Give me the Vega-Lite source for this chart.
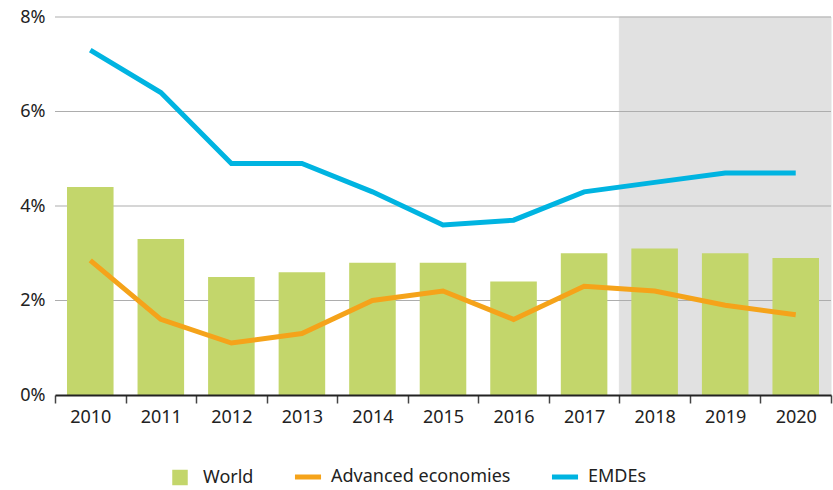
{
  "$schema": "https://vega.github.io/schema/vega-lite/v6.json",
  "width": 776,
  "height": 378,
  "autosize": {"type": "none"},
  "padding": {"left": 55, "top": 17, "right": 2, "bottom": 95},
  "config": {
    "view": {"stroke": null},
    "font": "Noto Sans",
    "axis": {"labelFont": "Noto Sans", "labelColor": "#222222", "labelFontSize": 18}
  },
  "datasets": {
    "main": [
      {"year": "2010", "series": "World", "value": 4.4},
      {"year": "2011", "series": "World", "value": 3.3},
      {"year": "2012", "series": "World", "value": 2.5},
      {"year": "2013", "series": "World", "value": 2.6},
      {"year": "2014", "series": "World", "value": 2.8},
      {"year": "2015", "series": "World", "value": 2.8},
      {"year": "2016", "series": "World", "value": 2.4},
      {"year": "2017", "series": "World", "value": 3.0},
      {"year": "2018", "series": "World", "value": 3.1},
      {"year": "2019", "series": "World", "value": 3.0},
      {"year": "2020", "series": "World", "value": 2.9},
      {"year": "2010", "series": "Advanced economies", "value": 2.85},
      {"year": "2011", "series": "Advanced economies", "value": 1.6},
      {"year": "2012", "series": "Advanced economies", "value": 1.1},
      {"year": "2013", "series": "Advanced economies", "value": 1.3},
      {"year": "2014", "series": "Advanced economies", "value": 2.0},
      {"year": "2015", "series": "Advanced economies", "value": 2.2},
      {"year": "2016", "series": "Advanced economies", "value": 1.6},
      {"year": "2017", "series": "Advanced economies", "value": 2.3},
      {"year": "2018", "series": "Advanced economies", "value": 2.2},
      {"year": "2019", "series": "Advanced economies", "value": 1.9},
      {"year": "2020", "series": "Advanced economies", "value": 1.7},
      {"year": "2010", "series": "EMDEs", "value": 7.3},
      {"year": "2011", "series": "EMDEs", "value": 6.4},
      {"year": "2012", "series": "EMDEs", "value": 4.9},
      {"year": "2013", "series": "EMDEs", "value": 4.9},
      {"year": "2014", "series": "EMDEs", "value": 4.3},
      {"year": "2015", "series": "EMDEs", "value": 3.6},
      {"year": "2016", "series": "EMDEs", "value": 3.7},
      {"year": "2017", "series": "EMDEs", "value": 4.3},
      {"year": "2018", "series": "EMDEs", "value": 4.5},
      {"year": "2019", "series": "EMDEs", "value": 4.7},
      {"year": "2020", "series": "EMDEs", "value": 4.7}
    ],
    "shade": [
      {"year": "2018", "top": 8},
      {"year": "2019", "top": 8},
      {"year": "2020", "top": 8}
    ],
    "grid": [{"g": 2}, {"g": 4}, {"g": 6}, {"g": 8}]
  },
  "encoding": {
    "x": {
      "field": "year", "type": "ordinal", "title": null,
      "scale": {"paddingInner": 0, "paddingOuter": 0},
      "axis": {
        "labelAngle": 0, "domainColor": "#222222", "domainWidth": 2,
        "tickBand": "extent", "tickColor": "#444444", "tickSize": 8, "tickWidth": 1.5,
        "labelPadding": 5, "zindex": 2
      }
    }
  },
  "layer": [
    {
      "data": {"name": "shade"},
      "mark": {"type": "bar", "color": "#E1E1E1", "stroke": "#E1E1E1", "strokeWidth": 1, "width": {"band": 1}},
      "encoding": {
        "y": {"field": "top", "type": "quantitative", "scale": {"domain": [0, 8]}, "title": null,
          "axis": {"values": [0, 2, 4, 6, 8], "format": ".0f", "labelExpr": "datum.label + '%'", "domain": false, "ticks": false, "grid": false, "labelPadding": 10}}
      }
    },
    {
      "data": {"name": "grid"},
      "mark": {"type": "rule", "color": "#ADADAD", "strokeWidth": 1.2},
      "encoding": {"y": {"field": "g", "type": "quantitative"}, "x": {"value": 0}, "x2": {"value": 776}}
    },
    {
      "data": {"name": "main"},
      "transform": [{"filter": "datum.series === 'World'"}],
      "mark": {"type": "bar", "width": {"band": 0.66}},
      "encoding": {
        "y": {"field": "value", "type": "quantitative"},
        "color": {
          "field": "series", "type": "nominal",
          "scale": {"domain": ["World", "Advanced economies", "EMDEs"], "range": ["#C3D66B", "#F5A31A", "#00B4E1"]},
          "legend": {
            "title": null, "orient": "none", "legendX": 116, "legendY": 451, "direction": "horizontal",
            "labelFontSize": 18, "labelColor": "#222222", "labelFont": "Noto Sans", "labelLimit": 400,
            "columnPadding": 30, "labelOffset": 14, "symbolSize": 260,
            "encode": {
              "symbols": {
                "update": {
                  "shape": {"signal": "datum.value === 'World' ? 'square' : 'stroke'"},
                  "size": {"signal": "datum.value === 'World' ? 240 : 680"},
                  "strokeWidth": {"signal": "datum.value === 'World' ? 0 : 5"},
                  "fill": {"scale": "color", "field": "value"},
                  "stroke": {"scale": "color", "field": "value"},
                  "opacity": {"value": 1},
                  "fillOpacity": {"value": 1}
                }
              }
            }
          }
        }
      }
    },
    {
      "data": {"name": "main"},
      "transform": [{"filter": "datum.series !== 'World'"}],
      "mark": {"type": "line", "strokeWidth": 5},
      "encoding": {
        "y": {"field": "value", "type": "quantitative"},
        "color": {"field": "series", "type": "nominal"}
      }
    }
  ]
}
